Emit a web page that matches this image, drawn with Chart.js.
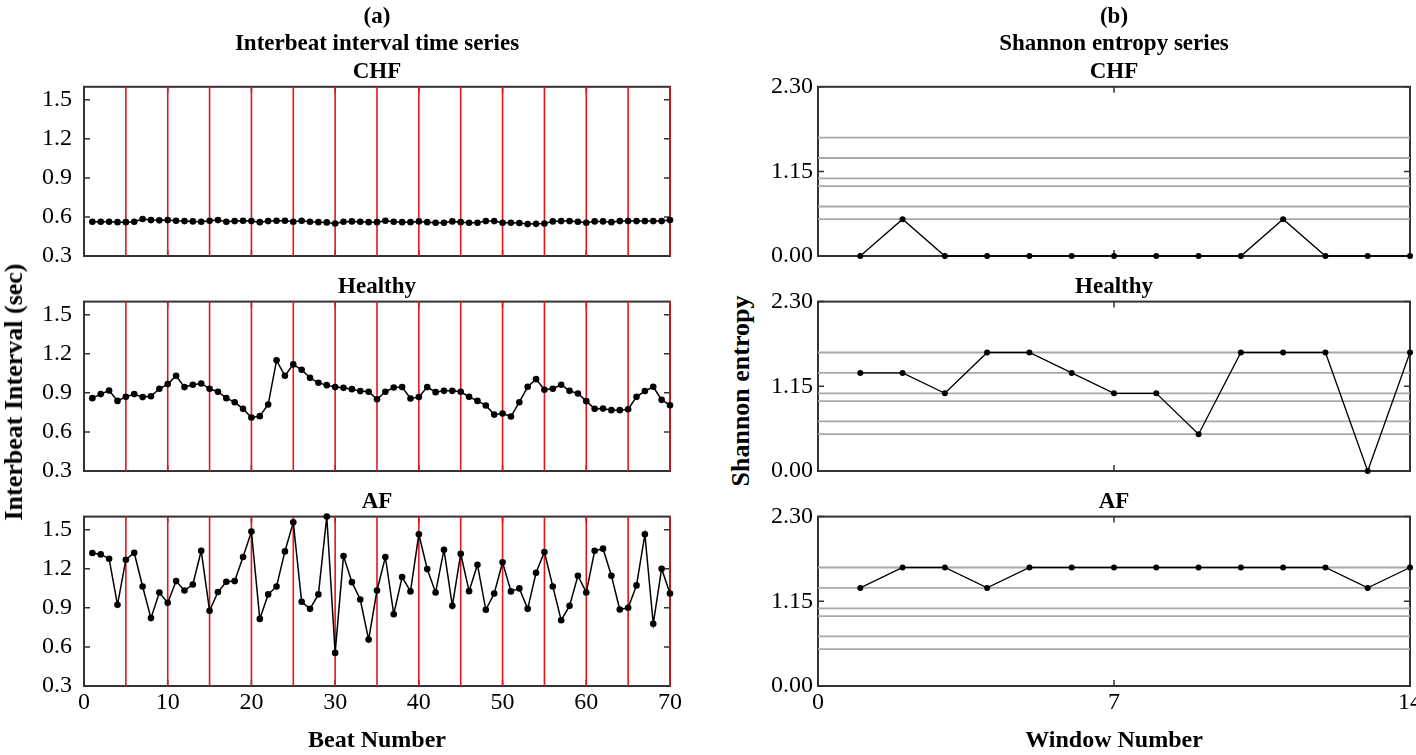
<!DOCTYPE html>
<html>
<head>
<meta charset="utf-8">
<script src="https://cdn.jsdelivr.net/npm/chart.js@4.4.1/dist/chart.umd.min.js"></script>
<style>
  html, body { margin: 0; padding: 0; background: #fff; overflow: hidden; }
  body { width: 1416px; height: 755px; position: relative; font-family: "Liberation Serif", "Times New Roman", serif; }
  .box { position: absolute; }
  .ylabel { position: absolute; font-weight: bold; font-size: 26px; white-space: nowrap; color: #000;
            transform: translate(-50%, -50%) rotate(-90deg); }
</style>
</head>
<body>
<div class="box" style="left:0;top:3px;width:700px;height:267px"><canvas id="ibiChf"></canvas></div>
<div class="box" style="left:0;top:273px;width:700px;height:212px"><canvas id="ibiHealthy"></canvas></div>
<div class="box" style="left:0;top:488px;width:700px;height:267px"><canvas id="ibiAf"></canvas></div>
<div class="box" style="left:760px;top:3px;width:656px;height:267px"><canvas id="entChf"></canvas></div>
<div class="box" style="left:760px;top:273px;width:656px;height:212px"><canvas id="entHealthy"></canvas></div>
<div class="box" style="left:760px;top:488px;width:656px;height:267px"><canvas id="entAf"></canvas></div>
<div class="ylabel" style="left:14px;top:392px">Interbeat Interval (sec)</div>
<div class="ylabel" style="left:741px;top:391px">Shannon entropy</div>
<script>
// ---- data ----
const beatNumbers = [1,2,3,4,5,6,7,8,9,10,11,12,13,14,15,16,17,18,19,20,21,22,23,24,25,26,27,28,29,30,
  31,32,33,34,35,36,37,38,39,40,41,42,43,44,45,46,47,48,49,50,51,52,53,54,55,56,57,58,59,60,
  61,62,63,64,65,66,67,68,69,70];

const chfIBI = [0.563,0.563,0.563,0.560,0.560,0.563,0.584,0.576,0.574,0.576,
  0.571,0.568,0.566,0.563,0.571,0.576,0.563,0.568,0.571,0.568,
  0.560,0.568,0.571,0.571,0.563,0.571,0.563,0.560,0.558,0.550,
  0.563,0.566,0.563,0.560,0.560,0.571,0.563,0.560,0.560,0.566,
  0.560,0.555,0.555,0.566,0.560,0.555,0.555,0.568,0.568,0.555,
  0.555,0.553,0.545,0.547,0.550,0.566,0.568,0.568,0.563,0.555,
  0.566,0.566,0.560,0.568,0.568,0.568,0.568,0.568,0.568,0.576];

const healthyIBI = [0.859,0.890,0.918,0.838,0.869,0.890,0.867,0.874,0.931,0.967,
  1.031,0.944,0.962,0.972,0.931,0.908,0.859,0.828,0.777,0.710,
  0.721,0.810,1.149,1.031,1.118,1.077,1.015,0.977,0.959,0.944,
  0.938,0.928,0.913,0.908,0.851,0.908,0.941,0.944,0.856,0.867,
  0.944,0.905,0.915,0.915,0.908,0.869,0.838,0.803,0.733,0.741,
  0.718,0.828,0.946,1.005,0.923,0.931,0.962,0.915,0.895,0.836,
  0.777,0.779,0.767,0.767,0.774,0.869,0.913,0.946,0.846,0.805];

const afIBI = [1.321,1.310,1.277,0.923,1.269,1.323,1.064,0.821,1.018,0.938,
  1.105,1.033,1.079,1.338,0.877,1.021,1.100,1.105,1.290,1.485,
  0.815,1.003,1.064,1.333,1.556,0.946,0.892,1.003,1.600,0.554,
  1.297,1.097,0.964,0.656,1.033,1.290,0.851,1.136,1.026,1.464,
  1.197,1.018,1.346,0.915,1.315,1.028,1.231,0.885,1.010,1.249,
  1.026,1.049,0.892,1.169,1.328,1.064,0.805,0.915,1.146,1.018,
  1.338,1.354,1.146,0.887,0.900,1.072,1.464,0.777,1.200,1.010];

const windowNumbers = [1,2,3,4,5,6,7,8,9,10,11,12,13,14];
const chfEntropy = [0,0.500,0,0,0,0,0,0,0,0,0.500,0,0,0];
const healthyEntropy = [1.332,1.332,1.055,1.609,1.609,1.332,1.055,1.055,0.500,1.609,1.609,1.609,0,1.609];
const afEntropy = [1.332,1.609,1.609,1.332,1.609,1.609,1.609,1.609,1.609,1.609,1.609,1.609,1.332,1.609];

// window boundaries (red) and possible entropy levels (grey)
const windowEdges = [5,10,15,20,25,30,35,40,45,50,55,60,65,70];
const entropyLevels = [0.500,0.673,0.950,1.055,1.332,1.609];

const beatTicks = [0,10,20,30,40,50,60,70];
const ibiTicks = [0.3,0.6,0.9,1.2,1.5];
const windowTicks = [0,7,14];
const entropyTicks = [0,1.15,2.30];

// ---- helpers ----
const FONT = '"Liberation Serif", "Times New Roman", serif';
Chart.defaults.font.family = FONT;
Chart.defaults.color = '#000';

const framePlugin = {
  id: 'frame',
  beforeDatasetsDraw(chart, args, opts) {
    const {ctx, chartArea: a, scales} = chart;
    ctx.save();
    ctx.strokeStyle = '#333';
    ctx.lineWidth = 2;
    ctx.strokeRect(a.left, a.top, a.width, a.height);
    ctx.lineWidth = 1.5;
    ctx.beginPath();
    opts.yTicks.forEach(v => {
      const y = scales.y.getPixelForValue(v);
      ctx.moveTo(a.left, y); ctx.lineTo(a.left + 6, y);
      ctx.moveTo(a.right, y); ctx.lineTo(a.right - 6, y);
    });
    opts.xTicks.forEach(v => {
      const x = scales.x.getPixelForValue(v);
      ctx.moveTo(x, a.top); ctx.lineTo(x, a.top + 6);
      ctx.moveTo(x, a.bottom); ctx.lineTo(x, a.bottom - 6);
    });
    ctx.stroke();
    ctx.restore();
  }
};

function makeChart(id, cfg) {
  const xAxis = {
    type: 'linear', min: cfg.xMin, max: cfg.xMax,
    display: cfg.bottom,
    grid: {display: false, drawTicks: false},
    border: {display: false},
    ticks: {font: {size: 24}, padding: 2, maxRotation: 0, autoSkip: false},
    afterBuildTicks: ax => { ax.ticks = cfg.xTicks.map(v => ({value: v})); },
    afterFit: ax => {
      if (cfg.bottom) ax.height = 69;
      ax.paddingLeft = 0; ax.paddingRight = 0;
    },
    title: {display: cfg.bottom, text: cfg.xTitle, font: {size: 24, weight: 'bold'}, padding: {top: 0, bottom: 0}}
  };
  const yAxis = {
    type: 'linear', min: cfg.yMin, max: cfg.yMax,
    grid: {display: false, drawTicks: false},
    border: {display: false},
    ticks: {font: {size: 24}, padding: cfg.yPad, autoSkip: false, callback: v => v.toFixed(cfg.digits)},
    afterBuildTicks: ax => { ax.ticks = cfg.yTicks.map(v => ({value: v})); },
    afterFit: ax => { ax.width = cfg.yWidth; ax.paddingTop = 0; ax.paddingBottom = 0; }
  };
  return new Chart(document.getElementById(id), {
    type: 'line',
    data: {datasets: cfg.datasets},
    options: {
      responsive: true,
      maintainAspectRatio: false,
      animation: false,
      devicePixelRatio: 1,
      layout: {padding: {left: 0, right: cfg.padRight, top: 0, bottom: cfg.bottom ? 0 : 14}},
      scales: {x: xAxis, y: yAxis},
      plugins: {
        legend: {display: false},
        tooltip: {enabled: false},
        title: {display: true, fullSize: false, text: cfg.title, color: '#000',
                font: {size: 23, weight: 'bold', lineHeight: 1.2}, padding: {top: 0, bottom: 1}},
        frame: {xTicks: cfg.xTicks, yTicks: cfg.yTicks}
      }
    },
    plugins: [framePlugin]
  });
}

function ibiPanel(id, title, values, bottom) {
  const series = {
    data: beatNumbers.map((b, i) => ({x: b, y: values[i]})),
    borderColor: '#000', borderWidth: 1.5,
    pointRadius: 3.3, pointBackgroundColor: '#000', pointBorderWidth: 0,
    order: 0, clip: false
  };
  const edges = windowEdges.map(b => ({
    data: [{x: b, y: 0.3}, {x: b, y: 1.6}],
    borderColor: '#e8141a', borderWidth: 1.6, pointRadius: 0, order: 1, clip: false
  }));
  makeChart(id, {
    title, bottom, datasets: [series, ...edges],
    xMin: 0, xMax: 70, xTicks: beatTicks, xTitle: 'Beat Number',
    yMin: 0.3, yMax: 1.6, yTicks: ibiTicks, digits: 1, yWidth: 84, yPad: 12, padRight: 30
  });
}

function entropyPanel(id, title, values, bottom) {
  const series = {
    data: windowNumbers.map((w, i) => ({x: w, y: values[i]})),
    borderColor: '#000', borderWidth: 1.3,
    pointRadius: 3, pointBackgroundColor: '#000', pointBorderWidth: 0,
    order: 0, clip: false
  };
  const levels = entropyLevels.map(v => ({
    data: [{x: 0, y: v}, {x: 14, y: v}],
    borderColor: '#a8a8a8', borderWidth: 1.8, pointRadius: 0, order: 1
  }));
  makeChart(id, {
    title, bottom, datasets: [series, ...levels],
    xMin: 0, xMax: 14, xTicks: windowTicks, xTitle: 'Window Number',
    yMin: 0, yMax: 2.3, yTicks: entropyTicks, digits: 2, yWidth: 58, yPad: 5, padRight: 6
  });
}

ibiPanel('ibiChf', ['(a)', 'Interbeat interval time series', 'CHF'], chfIBI, false);
ibiPanel('ibiHealthy', 'Healthy', healthyIBI, false);
ibiPanel('ibiAf', 'AF', afIBI, true);
entropyPanel('entChf', ['(b)', 'Shannon entropy series', 'CHF'], chfEntropy, false);
entropyPanel('entHealthy', 'Healthy', healthyEntropy, false);
entropyPanel('entAf', 'AF', afEntropy, true);
</script>
</body>
</html>
